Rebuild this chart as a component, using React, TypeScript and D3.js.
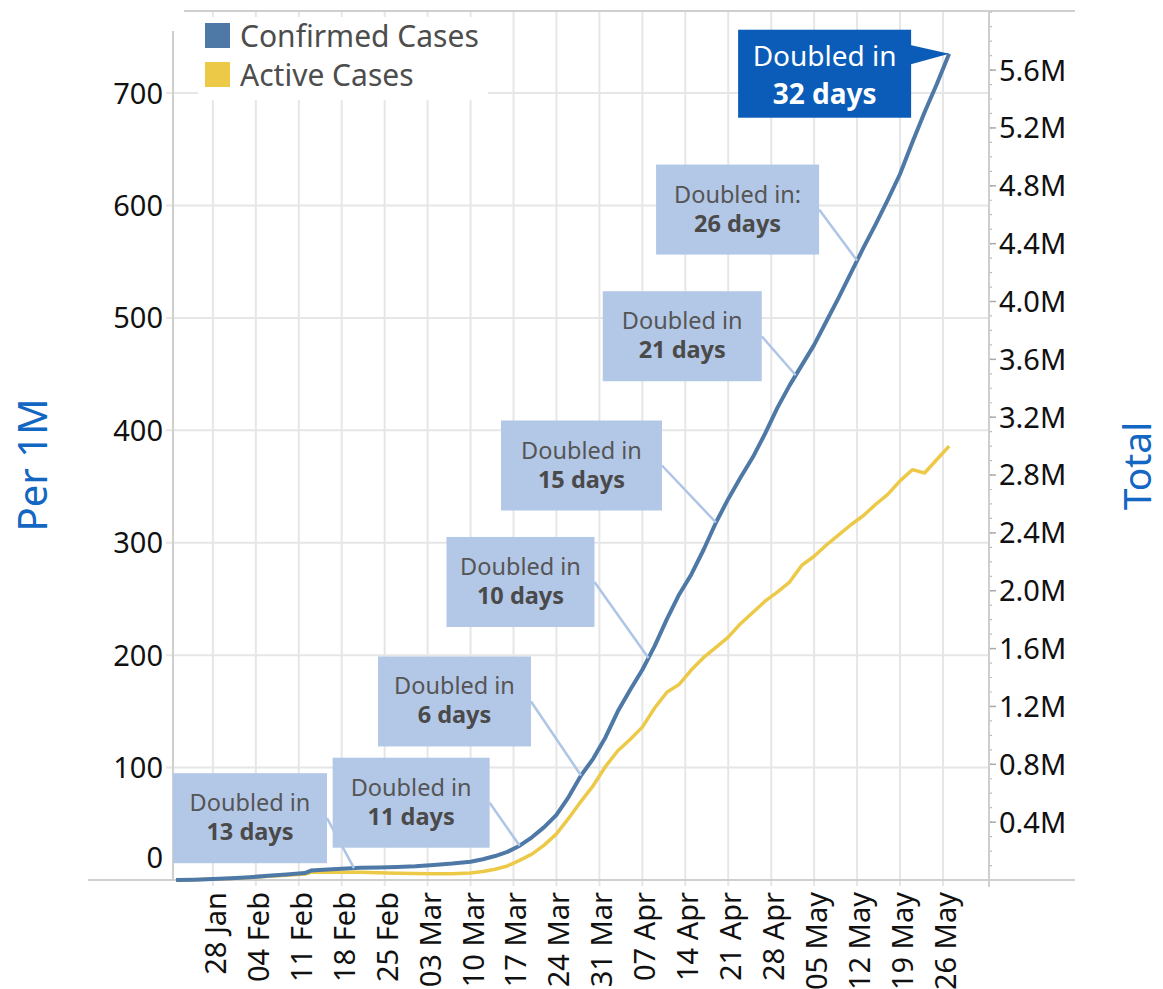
import React from "react";
import * as d3 from "d3";

// ---- data (per 1M people) ----
const dates = [
  "2020-01-22", "2020-01-25", "2020-01-28", "2020-01-31", "2020-02-03", "2020-02-06",
  "2020-02-09", "2020-02-12", "2020-02-13", "2020-02-15", "2020-02-18", "2020-02-21",
  "2020-02-24", "2020-02-27", "2020-03-01", "2020-03-04", "2020-03-07", "2020-03-10",
  "2020-03-12", "2020-03-14", "2020-03-16", "2020-03-18", "2020-03-20", "2020-03-22",
  "2020-03-24", "2020-03-26", "2020-03-28", "2020-03-30", "2020-04-01", "2020-04-03",
  "2020-04-05", "2020-04-07", "2020-04-09", "2020-04-11", "2020-04-13", "2020-04-15",
  "2020-04-17", "2020-04-19", "2020-04-21", "2020-04-23", "2020-04-25", "2020-04-27",
  "2020-04-29", "2020-05-01", "2020-05-03", "2020-05-05", "2020-05-07", "2020-05-09",
  "2020-05-11", "2020-05-13", "2020-05-15", "2020-05-17", "2020-05-19", "2020-05-21",
  "2020-05-23", "2020-05-25", "2020-05-27",
];

const confirmed = [
  0.1, 0.3, 0.8, 1.5, 2.5, 3.7,
  4.9, 6.2, 8.4, 9.2, 9.9, 10.8,
  11.2, 11.6, 12.2, 13.3, 14.6, 16.3,
  18.5, 21.3, 25, 30.5, 38, 47,
  58, 74, 93, 108, 127, 150,
  169, 187, 208, 232, 254, 272,
  294, 318, 339, 358, 376, 397,
  420, 440, 458, 476, 497, 518,
  540, 562, 583, 605, 628, 656,
  683, 708, 735,
];

const active = [
  0.1, 0.3, 0.8, 1.4, 2.3, 3.3,
  4.3, 5.3, 6.8, 7.1, 7.0, 6.8,
  6.4, 6.0, 5.7, 5.5, 5.6, 6.2,
  7.6, 9.6, 12.5, 17.5, 23, 31,
  41, 55, 70, 84, 101, 115,
  125, 136, 153, 167, 174, 187,
  198, 207, 216, 228, 238, 248,
  256, 265, 280, 288, 298, 307,
  316, 324, 334, 343, 355, 365,
  362, 374, 386,
];

const POPULATION = 7.773e9;
const leftTicks = [0, 100, 200, 300, 400, 500, 600, 700];
const rightTicks = [0.4, 0.8, 1.2, 1.6, 2.0, 2.4, 2.8, 3.2, 3.6, 4.0, 4.4, 4.8, 5.2, 5.6];

// annotations: anchored on the confirmed line
const annDates = ["2020-02-20", "2020-03-18", "2020-03-28", "2020-04-08", "2020-04-19", "2020-05-02", "2020-05-12"];
const annHeads = ["Doubled in", "Doubled in", "Doubled in", "Doubled in", "Doubled in", "Doubled in", "Doubled in:"];
const annDays = ["13 days", "11 days", "6 days", "10 days", "15 days", "21 days", "26 days"];
// layout: offset of box right-middle from the anchor point, box width
const annLayout = [
  { dx: -27, dy: -50, w: 154 },
  { dx: -30, dy: -43, w: 157 },
  { dx: -50, dy: -74, w: 153 },
  { dx: -54, dy: -76, w: 148 },
  { dx: -54, dy: -57, w: 161 },
  { dx: -34, dy: -39, w: 159 },
  { dx: -38, dy: -51, w: 163 },
];
const lastHead = "Doubled in";
const lastDays = "32 days";

const FONT = "'Noto Sans', 'Open Sans', sans-serif";
const BLUE = "#4e79a7";
const YELLOW = "#edc948";
const GRID = "#e6e6e6";
const AXIS = "#cfcfcf";
const TITLE = "#1366c2";
const BOX = "#b3c7e6";
const DARK = "#0a5cb8";

export default function App() {
  const W = 1163;
  const H = 989;
  const parse = d3.utcParse("%Y-%m-%d");
  const dts = dates.map((d) => parse(d) as Date);

  const x = d3
    .scaleUtc()
    .domain([new Date(Date.UTC(2020, 0, 21, 12)), new Date(Date.UTC(2020, 5, 2, 12))])
    .range([173, 989]);
  const y = d3.scaleLinear().domain([0, 773]).range([880, 11]);
  const yR = d3
    .scaleLinear()
    .domain([0, (773 * POPULATION) / 1e6])
    .range([880, 11]);

  const xTicks = d3.utcTuesday.range(new Date(Date.UTC(2020, 0, 28)), new Date(Date.UTC(2020, 5, 1)));
  const fmt = d3.utcFormat("%d %b");
  const minor = d3.range(1, 61).map((i) => i * 1e5).filter((v) => yR(v) >= 11);

  const line = d3
    .line<number>()
    .x((_, i) => x(dts[i]))
    .y((d) => y(d));

  // position on the drawn confirmed line at a given date
  const onLine = (ds: string) => {
    const t = parse(ds) as Date;
    const i = Math.min(Math.max(d3.bisector((d: Date) => d).left(dts, t), 1), dts.length - 1);
    const a = dts[i - 1].getTime();
    const b = dts[i].getTime();
    const f = (t.getTime() - a) / (b - a);
    const v = confirmed[i - 1] + f * (confirmed[i] - confirmed[i - 1]);
    return [x(t), y(v)];
  };

  const lastIdx = dates.length - 1;
  const lp = [x(dts[lastIdx]), y(confirmed[lastIdx])];
  const bW = 173;
  const bH = 88;
  const bRight = lp[0] - 38;
  const bTop = lp[1] + 20 - bH / 2;

  return (
    <svg
      width={W}
      height={H}
      style={{ position: "absolute", left: 0, top: 0, background: "#fff" }}
      fontFamily={FONT}
    >
      {/* gridlines */}
      {xTicks.map((t, i) => (
        <line key={"gx" + i} x1={x(t)} x2={x(t)} y1={11} y2={886} stroke={GRID} strokeWidth={2} />
      ))}
      {leftTicks.map((v) => (
        <line key={"gy" + v} x1={166} x2={989} y1={y(v)} y2={y(v)} stroke={GRID} strokeWidth={2} />
      ))}

      {/* frame */}
      <line x1={184} x2={1075} y1={11} y2={11} stroke={AXIS} strokeWidth={2} />
      <line x1={88} x2={1075} y1={880} y2={880} stroke={AXIS} strokeWidth={2} />
      <line x1={173} x2={173} y1={31} y2={880} stroke={AXIS} strokeWidth={2} />
      <line x1={989} x2={989} y1={11} y2={887} stroke={AXIS} strokeWidth={2} />

      {/* right axis ticks */}
      {minor.map((v) => (
        <line key={"mn" + v} x1={990} x2={992} y1={yR(v)} y2={yR(v)} stroke="#bdbdbd" strokeWidth={1.2} />
      ))}
      {rightTicks.map((v) => (
        <g key={"rt" + v}>
          <line x1={990} x2={996} y1={yR(v * 1e6)} y2={yR(v * 1e6)} stroke="#aaaaaa" strokeWidth={1.5} />
          <text x={999} y={yR(v * 1e6)} dy="0.36em" fontSize={29} fill="#111">
            {v.toFixed(1)}M
          </text>
        </g>
      ))}

      {/* left axis labels */}
      {leftTicks.map((v) => (
        <text
          key={"lt" + v}
          x={163}
          y={y(v) - (v === 0 ? 22 : 0)}
          dy="0.36em"
          textAnchor="end"
          fontSize={29}
          fill="#111"
        >
          {v}
        </text>
      ))}

      {/* x axis labels */}
      {xTicks.map((t, i) => (
        <text
          key={"xl" + i}
          transform={`translate(${x(t) + 2.5},892) rotate(-90)`}
          dy="0.36em"
          textAnchor="end"
          fontSize={29}
          fill="#111"
        >
          {fmt(t)}
        </text>
      ))}

      {/* axis titles */}
      <text transform="translate(33,465) rotate(-90)" dy="0.36em" textAnchor="middle" fontSize={40} fill={TITLE}>
        Per 1M
      </text>
      <text transform="translate(1137,466) rotate(-90)" dy="0.36em" textAnchor="middle" fontSize={39} fill={TITLE}>
        Total
      </text>

      {/* series */}
      <path d={line(active) || ""} fill="none" stroke={YELLOW} strokeWidth={3.5} strokeLinejoin="round" />
      <path d={line(confirmed) || ""} fill="none" stroke={BLUE} strokeWidth={4} strokeLinejoin="round" />

      {/* annotations */}
      {annDates.map((ds, i) => {
        const [px, py] = onLine(ds);
        const L = annLayout[i];
        const right = px + L.dx;
        const mid = py + L.dy;
        const top = mid - 45;
        const left = right - L.w;
        return (
          <g key={"an" + i}>
            <line x1={right} y1={mid} x2={px} y2={py} stroke="#aec5e5" strokeWidth={2.5} />
            <rect x={left} y={top} width={L.w} height={90} fill={BOX} />
            <text x={left + L.w / 2} y={top + 38} textAnchor="middle" fontSize={23.5} fill="#555">
              {annHeads[i]}
            </text>
            <text x={left + L.w / 2} y={top + 67} textAnchor="middle" fontSize={23.5} fontWeight={700} fill="#4a4a4a">
              {annDays[i]}
            </text>
          </g>
        );
      })}

      {/* last callout */}
      <g>
        <polygon points={`${bRight - 2},${bTop + 15} ${lp[0]},${lp[1]} ${bRight - 2},${bTop + 35}`} fill={DARK} />
        <rect x={bRight - bW} y={bTop} width={bW} height={bH} fill={DARK} />
        <text x={bRight - bW / 2} y={bTop + 36} textAnchor="middle" fontSize={28} fill="#fff">
          {lastHead}
        </text>
        <text x={bRight - bW / 2} y={bTop + 74} textAnchor="middle" fontSize={28} fontWeight={700} fill="#fff">
          {lastDays}
        </text>
      </g>

      {/* legend */}
      <rect x={198} y={17} width={290} height={83} fill="#fff" />
      <rect x={205} y={23} width={25} height={25} fill={BLUE} />
      <rect x={205} y={62} width={25} height={25} fill={YELLOW} />
      <text x={240} y={47} fontSize={30} fill="#4d4d4d">
        Confirmed Cases
      </text>
      <text x={240} y={86} fontSize={30} fill="#4d4d4d">
        Active Cases
      </text>
    </svg>
  );
}
